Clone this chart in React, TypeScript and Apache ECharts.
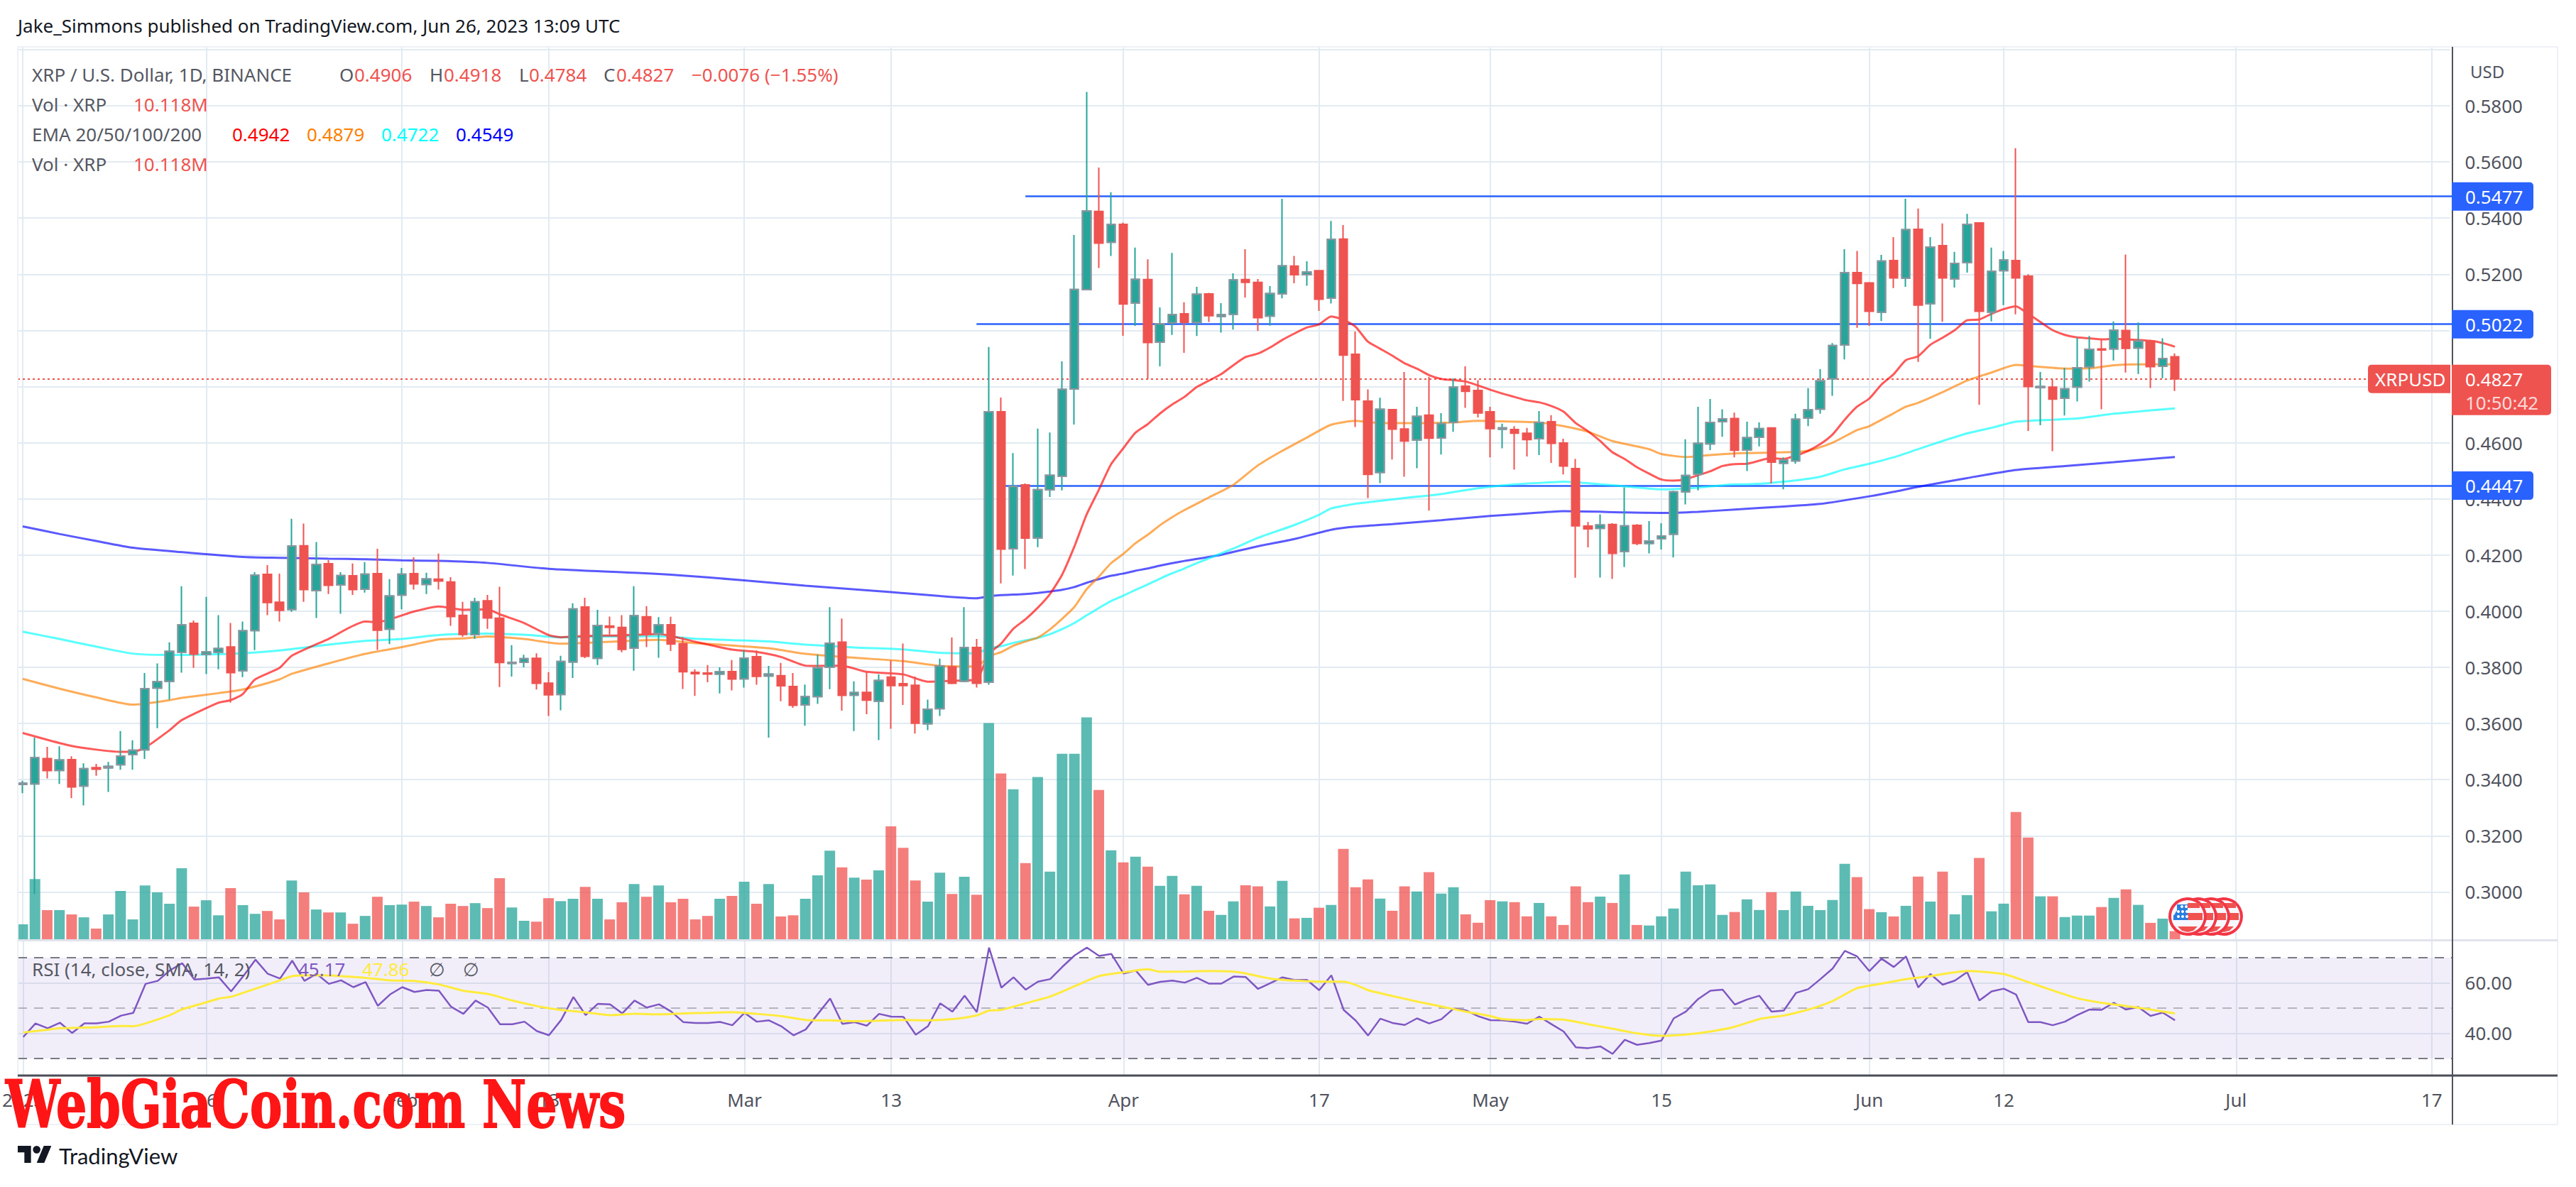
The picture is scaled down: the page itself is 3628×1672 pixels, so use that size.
import React, { useEffect, useRef } from "react";
import * as echarts from "echarts";

// ---------- categories (one per calendar day, Jan 1 2023 onward) ----------
const dayCount = 199;
const firstDay = Date.UTC(2023, 0, 1);
const categories: string[] = [];
for (let i = 0; i < dayCount; i++) categories.push(new Date(firstDay + i * 86400000).toISOString().slice(0, 10));
const tickIdx = [0, 15, 31, 43, 59, 71, 90, 106, 120, 134, 151, 162, 181, 197];
const tickText = ["2023", "16", "Feb", "13", "Mar", "13", "Apr", "17", "May", "15", "Jun", "12", "Jul", "17"];
const priceTicks = [0.3, 0.32, 0.34, 0.36, 0.38, 0.4, 0.42, 0.44, 0.46, 0.48, 0.5, 0.52, 0.54, 0.56, 0.58];
const rsiTicks = [40, 60];

// ---------- candles ----------
const opens = [
  .3383,.3385,.3475,.3433,.3471,.3377,.3443,.3442,.3453,.3489,
  .3506,.3726,.3750,.3853,.3957,.3846,.3854,.3873,.3788,.3931,
  .4131,.4032,.4006,.4233,.4073,.4169,.4093,.4126,.4078,.4134,
  .3936,.4057,.4134,.4095,.4114,.4104,.3985,.3916,.4037,.3975,
  .3814,.3818,.3832,.3744,.3703,.3819,.4015,.3832,.3947,.3942,
  .3868,.3980,.3920,.3952,.3884,.3782,.3780,.3776,.3785,.3759,
  .3838,.3769,.3770,.3732,.3666,.3696,.3800,.3890,.3701,.3711,
  .3679,.3765,.3742,.3736,.3599,.3653,.3802,.3751,.3871,.3747,
  .4710,.4222,.4450,.4261,.4432,.4480,.4791,.5145,.5424,.5314,
  .5378,.5097,.5181,.4958,.5027,.5059,.5028,.5130,.5050,.5057,
  .5181,.5171,.5051,.5130,.5229,.5198,.5213,.5115,.5325,.4915,
  .4748,.4494,.4718,.4649,.4610,.4698,.4617,.4672,.4801,.4786,
  .4710,.4648,.4647,.4634,.4614,.4675,.4599,.4508,.4303,.4295,
  .4309,.4213,.4306,.4241,.4258,.4274,.4425,.4488,.4596,.4675,
  .4686,.4574,.4619,.4653,.4527,.4535,.4688,.4720,.4828,.4948,
  .5206,.5169,.5065,.5249,.5186,.5360,.5095,.5302,.5183,.5241,
  .5383,.5065,.5213,.5249,.5193,.4796,.4798,.4758,.4798,.4870,
  .4934,.4934,.5000,.4937,.4962,.4872,.4906,
];
const closes = [
  .3387,.3478,.3432,.3470,.3374,.3439,.3437,.3447,.3484,.3505,
  .3724,.3749,.3857,.3951,.3847,.3855,.3867,.3781,.3930,.4128,
  .4031,.4003,.4232,.4077,.4166,.4092,.4127,.4077,.4132,.3932,
  .4054,.4132,.4097,.4115,.4107,.3981,.3917,.4033,.3976,.3817,
  .3818,.3831,.3743,.3702,.3821,.4008,.3839,.3949,.3942,.3864,
  .3984,.3916,.3951,.3883,.3784,.3777,.3776,.3784,.3758,.3833,
  .3768,.3776,.3734,.3665,.3696,.3798,.3886,.3700,.3710,.3683,
  .3753,.3735,.3735,.3601,.3651,.3805,.3743,.3870,.3743,.4710,
  .4221,.4444,.4260,.4433,.4484,.4790,.5146,.5425,.5311,.5377,
  .5094,.5182,.4957,.5024,.5056,.5029,.5129,.5052,.5056,.5180,
  .5171,.5045,.5131,.5230,.5198,.5208,.5111,.5324,.4912,.4753,
  .4487,.4719,.4648,.4606,.4694,.4616,.4668,.4798,.4783,.4706,
  .4650,.4653,.4634,.4611,.4672,.4598,.4517,.4304,.4293,.4307,
  .4206,.4304,.4241,.4250,.4268,.4425,.4483,.4598,.4672,.4685,
  .4573,.4618,.4650,.4531,.4538,.4684,.4717,.4820,.4946,.5206,
  .5167,.5068,.5247,.5187,.5359,.5090,.5297,.5187,.5239,.5378,
  .5068,.5210,.5251,.5187,.4800,.4800,.4755,.4792,.4867,.4933,
  .4930,.5001,.4936,.4962,.4871,.4900,.4827,
];
const lows = [
  .3352,.2993,.3404,.3385,.3334,.3308,.3414,.3356,.3435,.3435,
  .3474,.3583,.3685,.3781,.3798,.3776,.3793,.3674,.3765,.3861,
  .3986,.3963,.3998,.4033,.3976,.4061,.3991,.4058,.4066,.3862,
  .3883,.4007,.4077,.4061,.4077,.3948,.3909,.3901,.3937,.3730,
  .3767,.3800,.3721,.3627,.3647,.3762,.3833,.3808,.3917,.3854,
  .3788,.3872,.3834,.3858,.3723,.3698,.3747,.3707,.3718,.3728,
  .3738,.3550,.3679,.3656,.3592,.3670,.3722,.3646,.3573,.3633,
  .3541,.3581,.3666,.3564,.3576,.3627,.3740,.3747,.3728,.3738,
  .4099,.4127,.4150,.4228,.4407,.4430,.4665,.5144,.5222,.5265,
  .4981,.5016,.4827,.4872,.4984,.4920,.4980,.5030,.4992,.5003,
  .5117,.4998,.5017,.5114,.5168,.5159,.5069,.5096,.4749,.4656,
  .4403,.4456,.4540,.4479,.4509,.4358,.4558,.4639,.4724,.4690,
  .4548,.4580,.4504,.4551,.4556,.4528,.4487,.4119,.4227,.4120,
  .4115,.4157,.4235,.4206,.4220,.4191,.4380,.4430,.4574,.4621,
  .4548,.4499,.4587,.4455,.4434,.4525,.4659,.4703,.4767,.4897,
  .5009,.5016,.5033,.5151,.5155,.4888,.4970,.5031,.5153,.5206,
  .4735,.5032,.5090,.5057,.4642,.4662,.4570,.4697,.4747,.4818,
  .4719,.4893,.4850,.4845,.4795,.4830,.4784,
];
const highs = [
  .3396,.3550,.3517,.3519,.3483,.3458,.3456,.3463,.3573,.3540,
  .3780,.3814,.3889,.4089,.3967,.4051,.3986,.3958,.3963,.4139,
  .4164,.4134,.4329,.4312,.4246,.4182,.4139,.4170,.4175,.4222,
  .4114,.4154,.4192,.4137,.4205,.4121,.4033,.4048,.4058,.4087,
  .3879,.3845,.3850,.3783,.3841,.4028,.4048,.4005,.3981,.3986,
  .4089,.4018,.3979,.3980,.3908,.3793,.3808,.3800,.3826,.3860,
  .3860,.3805,.3816,.3780,.3739,.3845,.4014,.3974,.3750,.3783,
  .3775,.3824,.3885,.3767,.3685,.3831,.3906,.4014,.3901,.4941,
  .4761,.4563,.4455,.4650,.4636,.4890,.5340,.5849,.5580,.5492,
  .5384,.5295,.5253,.5082,.5276,.5100,.5155,.5134,.5097,.5203,
  .5289,.5183,.5158,.5469,.5265,.5246,.5213,.5390,.5375,.4996,
  .4790,.4760,.4720,.4852,.4728,.4835,.4705,.4830,.4872,.4823,
  .4728,.4668,.4659,.4653,.4713,.4698,.4614,.4542,.4318,.4345,
  .4313,.4441,.4310,.4321,.4313,.4429,.4612,.4728,.4756,.4719,
  .4707,.4675,.4672,.4655,.4548,.4703,.4794,.4862,.4955,.5289,
  .5283,.5172,.5269,.5332,.5469,.5434,.5332,.5381,.5280,.5415,
  .5385,.5295,.5283,.5649,.5200,.4852,.4825,.4867,.4974,.4980,
  .4968,.5032,.5270,.5028,.4963,.4972,.4918,
];

// ---------- volume, millions ----------
const volumes = [
  18.0,69.9,34.3,34.3,29.3,26.0,13.0,29.3,56.3,23.6,
  62.6,54.6,41.6,82.3,38.3,45.6,28.3,59.6,40.0,30.0,
  33.3,23.6,68.3,54.6,35.0,31.6,31.6,18.6,27.6,49.6,
  40.0,40.6,44.0,39.0,26.0,41.6,39.0,42.3,36.6,70.9,
  37.3,22.0,21.0,48.0,44.6,47.3,60.9,47.3,23.6,43.3,
  64.3,49.6,62.6,43.3,47.3,23.6,27.6,47.3,50.6,66.9,
  41.6,64.3,27.0,28.3,47.3,74.3,102.6,83.3,71.6,69.3,
  79.9,130.5,105.9,68.3,44.0,77.3,52.9,72.6,51.9,249.1,
  191.2,173.1,88.3,187.1,78.4,213.9,213.9,255.6,172.2,102.9,
  89.2,95.6,84.2,62.1,73.7,52.5,62.1,33.5,28.8,44.3,
  62.9,61.5,38.5,67.9,24.8,25.4,37.0,40.2,104.6,60.6,
  69.6,47.5,33.5,61.5,55.7,77.8,53.3,60.6,29.4,19.8,
  45.7,44.3,43.4,27.1,42.5,27.1,17.2,61.5,43.4,49.8,
  42.5,75.2,17.2,16.6,27.1,36.1,78.4,62.9,63.8,28.8,
  32.1,46.6,34.4,54.8,34.3,55.7,39.2,34.3,45.9,87.5,
  72.1,35.4,31.9,27.0,39.2,72.8,44.1,78.4,29.4,51.5,
  94.2,32.9,41.7,147.0,117.6,50.1,50.1,26.3,28.0,28.0,
  37.8,48.3,58.1,40.3,19.6,24.5,10.118,
];

// ---------- EMAs, as [day index, value] readings ----------
const ema20: [number, number][] = [
  [0,.3566],[2,.3542],[4,.3520],[6,.3507],[8,.3499],[9,.3499],[10,.3514],[12,.3576],[13,.3612],[16,.3674],[17,.3683],[18,.3705],[19,.3757],[21,.3798],[22,.3841],[25,.3901],[28,.3963],[29,.3961],[32,.3999],[34,.4017],[36,.4005],[38,.4007],[39,.3989],[41,.3958],[43,.3915],[44,.3907],[46,.3912],[49,.3914],[52,.3919],[55,.3891],[58,.3863],[60,.3855],[62,.3837],[64,.3806],[65,.3805],[67,.3806],[69,.3784],[72,.3775],[74,.3749],[76,.3752],[78,.3757],
  [79,.3848],[80,.3884],[81,.3937],[82,.3971],[83,.4012],[84,.4061],[85,.4130],[86,.4230],[87,.4344],[88,.4432],[89,.4523],[90,.4580],[91,.4636],[92,.4666],[93,.4704],[94,.4736],[95,.4763],
  [96,.4798],[97,.4821],[98,.4844],[99,.4876],[100,.4905],[101,.4917],[102,.4939],[103,.4966],[104,.4989],[105,.5010],[106,.5021],[107,.5050],[108,.5038],[109,.5013],[110,.4960],[111,.4935],[112,.4910],[113,.4883],[114,.4864],[115,.4841],[116,.4827],[117,.4823],[118,.4818],[119,.4804],[120,.4789],[121,.4775],[122,.4763],[123,.4751],[124,.4744],[125,.4731],[126,.4711],[127,.4670],[128,.4641],[129,.4606],[130,.4566],[131,.4542],[132,.4513],[133,.4490],[134,.4469],[135,.4465],[136,.4470],[137,.4484],[138,.4498],[139,.4517],[140,.4524],
  [141,.4525],[143,.4545],[144,.4542],[145,.4554],[146,.4571],[147,.4595],[148,.4629],[149,.4682],[150,.4728],[151,.4757],[152,.4807],[153,.4844],[154,.4894],[155,.4908],[156,.4949],[157,.4974],[158,.5001],[159,.5036],[160,.5039],[161,.5059],[162,.5076],[163,.5086],[164,.5059],[165,.5030],[166,.5001],[167,.4984],[168,.4975],[169,.4972],[170,.4968],[171,.4970],[172,.4968],[173,.4966],[174,.4963],[175,.4955],[176,.4942],
];
const ema50: [number, number][] = [
  [0,.3759],[3,.3724],[6,.3693],[9,.3667],[12,.3683],[13,.3691],[16,.3708],[18,.3721],[21,.3757],[22,.3777],[25,.3814],[28,.3848],[31,.3872],[34,.3899],[36,.3903],[38,.3910],[41,.3901],[44,.3884],[48,.3891],[52,.3898],[55,.3886],[58,.3878],[61,.3868],[64,.3848],[68,.3834],[72,.3822],[75,.3805],[78,.3803],
  [79,.3839],[80,.3854],[81,.3877],[82,.3892],[83,.3906],[84,.3935],[85,.3973],[86,.4015],[87,.4078],[88,.4123],[89,.4171],[90,.4204],[91,.4242],[92,.4272],[93,.4306],[94,.4335],[95,.4360],
  [97,.4405],[99,.4450],[101,.4519],[103,.4571],[105,.4618],[107,.4664],[109,.4678],[111,.4670],[114,.4670],[117,.4672],[119,.4678],[121,.4676],[124,.4672],[126,.4659],[128,.4639],[130,.4606],[133,.4577],[134,.4560],[136,.4549],[138,.4556],[140,.4562],
  [141,.4563],[144,.4566],[146,.4571],[148,.4600],[150,.4645],[151,.4659],[153,.4705],[154,.4728],[155,.4742],[157,.4780],[159,.4821],[161,.4850],[163,.4877],[165,.4870],[167,.4864],[169,.4865],[171,.4876],[173,.4879],[176,.4879],
];
const ema100: [number, number][] = [
  [0,.3927],[3,.3901],[6,.3874],[9,.3849],[12,.3844],[16,.3847],[18,.3850],[21,.3860],[25,.3881],[28,.3894],[31,.3901],[34,.3915],[38,.3920],[41,.3916],[44,.3907],[48,.3910],[52,.3911],[55,.3902],[58,.3897],[61,.3892],[64,.3881],[68,.3871],[72,.3864],[75,.3852],[78,.3850],
  [79,.3868],[80,.3875],[81,.3887],[82,.3896],[83,.3905],[84,.3918],[85,.3936],[86,.3958],[87,.3985],[88,.4011],[89,.4036],[90,.4055],[91,.4076],[92,.4095],[93,.4116],[94,.4135],[95,.4152],
  [96,.4171],[99,.4223],[101,.4261],[104,.4307],[106,.4343],[107,.4366],[109,.4383],[110,.4388],[113,.4403],[116,.4417],[119,.4438],[122,.4452],[125,.4459],[126,.4461],[129,.4452],[131,.4445],[134,.4434],[137,.4440],[140,.4452],
  [141,.4452],[144,.4461],[147,.4479],[149,.4505],[151,.4525],[153,.4548],[155,.4577],[157,.4606],[159,.4633],[161,.4653],[163,.4675],[166,.4682],[168,.4686],[171,.4703],[174,.4715],[176,.4722],
];
const ema200: [number, number][] = [
  [0,.4302],[3,.4275],[6,.4250],[9,.4226],[12,.4214],[18,.4193],[21,.4190],[25,.4187],[28,.4185],[31,.4181],[34,.4179],[38,.4172],[43,.4151],[50,.4137],[53,.4130],[59,.4110],[64,.4091],[71,.4068],[75,.4054],[78,.4046],
  [79,.4053],[80,.4057],[81,.4059],[82,.4061],[83,.4065],[84,.4070],[85,.4076],[86,.4086],[87,.4101],[88,.4114],[89,.4126],[90,.4134],[91,.4144],[92,.4152],[93,.4162],[94,.4171],[95,.4179],
  [98,.4201],[101,.4231],[104,.4257],[107,.4290],[109,.4301],[112,.4310],[116,.4324],[120,.4339],[124,.4351],[126,.4356],[131,.4352],[134,.4350],[137,.4354],[140,.4362],
  [144,.4373],[147,.4382],[151,.4409],[153,.4425],[155,.4443],[159,.4474],[163,.4503],[167,.4517],[171,.4531],[176,.4549],
];

// ---------- horizontal levels: [first day index, price] ----------
const levels: [number, number][] = [[82, .5477], [78, .5022], [80, .4447]];
const lastPrice = 0.4827;

// ---------- RSI ----------
const rsi = [
  38.5,43.9,42.0,44.2,40.1,43.9,43.9,44.6,47.0,48.1,
  59.6,60.8,65.0,67.8,61.3,61.7,62.2,56.6,62.7,69.2,
  63.6,61.7,68.8,60.8,63.6,59.6,61.0,58.3,60.3,50.9,
  55.4,58.3,56.4,57.2,56.9,50.5,47.7,53.0,50.2,43.6,
  43.6,44.6,40.9,39.2,45.3,54.4,47.2,51.7,51.5,47.9,
  53.0,50.2,51.5,48.6,44.4,44.1,44.1,44.5,43.2,48.1,
  44.6,45.1,42.8,39.2,41.5,47.7,53.8,43.7,44.4,43.0,
  47.7,46.6,46.5,39.4,42.8,51.9,48.6,54.9,48.4,74.0,
  58.1,62.2,57.3,60.5,61.5,66.4,70.9,74.0,70.7,71.5,
  63.7,64.9,59.2,60.4,60.9,60.1,62.0,59.7,59.7,62.5,
  62.3,57.6,59.9,62.2,61.1,61.2,57.1,63.0,49.3,45.0,
  39.1,45.8,44.1,43.3,45.9,43.9,45.6,49.8,49.1,46.8,
  45.2,45.1,44.6,43.8,46.6,43.6,40.7,34.4,34.1,34.8,
  31.8,37.4,35.4,36.1,37.1,45.9,48.6,53.6,56.9,57.3,
  51.4,53.4,54.9,48.6,49.0,56.0,57.5,61.5,65.7,72.7,
  70.5,64.7,69.6,66.3,70.5,58.2,63.5,59.3,60.9,64.3,
  53.0,56.6,57.7,55.4,44.4,44.4,43.2,44.6,47.2,49.4,
  49.3,52.1,49.4,50.4,46.9,48.2,45.17,
];
const rsiMa: [number, number][] = [
  [0,40.3],[2,41.4],[3,42.0],[6,42.4],[8,42.9],[9,42.8],[10,43.9],[12,47.2],[13,49.5],[15,52.3],[16,53.8],[17,54.5],[19,57.7],[21,61.0],[22,62.7],[24,63.0],[26,62.7],[28,62.0],[30,61.0],[32,60.8],[34,59.4],[36,56.9],[38,55.6],[40,53.0],[42,50.8],[44,49.2],[46,48.3],[48,47.2],[50,47.7],[52,47.5],[54,47.9],[56,48.1],[58,48.4],[60,47.7],[62,46.8],[64,45.3],[66,45.1],[68,44.8],[70,45.0],[72,45.3],
  [74,45.1],[76,45.6],[78,47.1],[79,49.0],[80,49.3],[82,51.9],[84,54.6],[86,58.7],[88,62.7],[90,64.2],[92,65.4],[93,64.4],[95,64.5],[97,64.7],[99,64.4],[100,63.7],[102,61.7],[104,60.9],[106,60.5],[108,60.5],[109,59.2],[110,57.1],[112,54.8],[114,52.6],[116,50.6],[118,48.6],[120,46.8],[121,45.6],[123,45.2],[124,45.6],[126,45.4],[128,43.6],[130,41.8],[132,40.0],[134,39.0],[136,39.5],[138,40.7],[140,42.6],[142,45.6],[143,46.4],
  [144,47.0],[146,49.4],[148,52.8],[150,57.9],[152,59.7],[154,61.5],[156,62.7],[159,64.7],[162,63.5],[164,60.3],[166,57.0],[168,53.9],[170,52.1],[172,50.8],[174,49.4],[176,47.86],
];
const rsiBands = [70, 50, 30];

// ---------- layout constants ----------
const UP = "#26a69a";
const DOWN = "#ef5350";
const GRID_LINE = "#e3ebf2";
const AXIS_TEXT = "#50535e";
const FONT = "'Noto Sans', sans-serif";
const PLOT_L = 25;
const AXIS_X = 3454;
const FRAME_R = 3602;
const TOP = 66;
const PRICE_BOTTOM = 1324;
const RSI_BOTTOM = 1514;
const BOTTOM = 1584;
const GRID_L = 23.39;
const GRID_W = 3427.2;
const PRICE_MAX = 0.58 + (149 - TOP) / 3955;
const PRICE_MIN = 0.58 - (PRICE_BOTTOM - 149) / 3955;
const py = (v: number) => TOP + ((PRICE_MAX - v) * (PRICE_BOTTOM - TOP)) / (PRICE_MAX - PRICE_MIN);

echarts.graphic.registerShape(
  "tvlogo",
  echarts.graphic.extendPath("M14 22H7V11H0V4h14v18zM28 22h-8l7.5-18h8L28 22zM20 12a4 4 0 1 0 0-8 4 4 0 0 0 0 8z", {})
);

const txt = (x: number, y: number, text: string, fill: string, fontSize = 26, extra: any = {}, styleExtra: any = {}) => ({
  type: "text",
  x,
  y,
  z: 100,
  silent: true,
  style: { text, fill, fontSize, fontFamily: FONT, verticalAlign: "middle", align: "left", ...styleExtra },
  ...extra,
});
const hl = (x1: number, x2: number, y: number, stroke: string, lineWidth: number, z = 90) => ({
  type: "line", z, silent: true, shape: { x1, y1: y, x2, y2: y }, style: { stroke, lineWidth },
});
const vl = (x: number, y1: number, y2: number, stroke: string, lineWidth: number, z = 90) => ({
  type: "line", z, silent: true, shape: { x1: x, y1, x2: x, y2 }, style: { stroke, lineWidth },
});
const box = (x: number, y: number, width: number, height: number, fill: string, z = 95, r: any = 0) => ({
  type: "rect", z, silent: true, shape: { x, y, width, height, r }, style: { fill },
});

function flag(cx: number, cy: number, z: number, front: boolean) {
  const R = 25;
  const parts: any[] = [
    { type: "circle", z, silent: true, shape: { cx, cy, r: R }, style: { fill: "#f7f8ff", stroke: "#f23645", lineWidth: 4 } },
    box(cx, cy - 19, 17, 7, "#f0524f", z + 0.1),
    box(cx, cy - 5, 21, 10, "#f0524f", z + 0.1),
    { type: "polygon", z: z + 0.1, silent: true, shape: { points: [[cx - 14, cy + 14], [cx + 14, cy + 14], [cx + 8, cy + 20], [cx, cy + 22], [cx - 8, cy + 20]] }, style: { fill: "#f0524f" } },
  ];
  if (front) {
    parts.push({ type: "sector", z: z + 0.2, silent: true, shape: { cx, cy: cy + 5, r: 20, r0: 0, startAngle: Math.PI, endAngle: Math.PI * 1.5 }, style: { fill: "#2a7de1" } });
    parts.push(box(cx - 20, cy - 2, 20, 7, "#2a7de1", z + 0.2));
    parts.push(box(cx - 15, cy - 17, 15, 10, "#2a7de1", z + 0.2));
    for (const [dx, dy] of [[-8, -14], [-2, -14], [-13, -7], [-7, -7], [-1, -7], [-13, 0], [-7, 0], [-1, 0]]) {
      parts.push({ type: "circle", z: z + 0.3, silent: true, shape: { cx: cx + dx, cy: cy + dy, r: 2 }, style: { fill: "#ffffff" } });
    }
  }
  return parts;
}

function buildGraphics() {
  const e: any[] = [];
  // page frame
  e.push(box(0, 40, PLOT_L, 1500, "#ffffff", 80));
  e.push(hl(PLOT_L, FRAME_R, TOP, "#eef1f6", 2));
  e.push(vl(PLOT_L, TOP, BOTTOM, "#eef1f6", 2));
  e.push(vl(FRAME_R, TOP, BOTTOM, "#eef1f6", 2));
  e.push(hl(PLOT_L, FRAME_R, BOTTOM, "#eef1f6", 2));
  e.push(hl(PLOT_L, FRAME_R, PRICE_BOTTOM + 0.5, "#e0e3eb", 3));
  e.push(hl(PLOT_L, FRAME_R, RSI_BOTTOM + 1, "#4a4c56", 3));
  e.push(vl(AXIS_X, TOP, BOTTOM, "#50535e", 2));

  // header + legends
  e.push(txt(25, 36, "Jake_Simmons published on TradingView.com, Jun 26, 2023 13:09 UTC", "#131722", 26));
  const lg = "#555862";
  e.push(txt(45, 105, "XRP / U.S. Dollar, 1D, BINANCE", lg));
  e.push(txt(478, 105, "O", lg), txt(499, 105, "0.4906", DOWN));
  e.push(txt(605, 105, "H", lg), txt(625, 105, "0.4918", DOWN));
  e.push(txt(731, 105, "L", lg), txt(745, 105, "0.4784", DOWN));
  e.push(txt(850, 105, "C", lg), txt(868, 105, "0.4827", DOWN));
  e.push(txt(974, 105, "\u22120.0076 (\u22121.55%)", DOWN));
  e.push(txt(45, 147, "Vol \u00b7 XRP", lg), txt(188, 147, "10.118M", DOWN));
  e.push(txt(45, 189, "EMA 20/50/100/200", lg));
  e.push(txt(327, 189, "0.4942", "#ff0000"), txt(432, 189, "0.4879", "#ff7f00"));
  e.push(txt(537, 189, "0.4722", "#00ffff"), txt(642, 189, "0.4549", "#0000ff"));
  e.push(txt(45, 231, "Vol \u00b7 XRP", lg), txt(188, 231, "10.118M", DOWN));
  e.push(txt(45, 1365, "RSI (14, close, SMA, 14, 2)", lg));
  e.push(txt(420, 1365, "45.17", "#7e57c2"), txt(510, 1365, "47.86", "#ffeb3b"));
  e.push(txt(604, 1365, "\u2205", lg), txt(652, 1365, "\u2205", lg));
  e.push(txt(3479, 100, "USD", AXIS_TEXT, 24));

  // price tags
  for (const [, v] of levels) {
    const y = py(v);
    e.push(box(AXIS_X - 1, y - 20, 115, 40, "#2962ff", 96, [0, 5, 5, 0]));
    e.push(txt(3472, y, v.toFixed(4), "#ffffff"));
  }
  const ly = py(lastPrice);
  e.push(box(3335, ly - 20, 116, 40, DOWN, 96, [5, 0, 0, 5]));
  e.push(txt(3345, ly, "XRPUSD", "#ffffff", 26));
  e.push(box(AXIS_X - 1, ly - 20, 140, 71, DOWN, 96, [0, 5, 5, 0]));
  e.push(txt(3472, ly, lastPrice.toFixed(4), "#ffffff"));
  e.push(txt(3472, ly + 33, "10:50:42", "rgba(255,255,255,0.8)"));

  // flags, back to front
  [3132, 3114, 3096].forEach((cx, i) => e.push(...flag(cx, 1291, 60 + i, false)));
  e.push(...flag(3081, 1291, 64, true));

  // watermark + logo
  e.push({
    type: "text", x: 8, y: 1602, z: 110, silent: true, scaleX: 0.74, scaleY: 1,
    style: { text: "WebGiaCoin.com News", fill: "#ff1515", fontSize: 92, fontWeight: 900, fontFamily: "'DejaVu Serif', serif", verticalAlign: "bottom", align: "left", stroke: "#ff1515", lineWidth: 2 },
  });
  e.push({ type: "tvlogo", x: 25, y: 1608.7, scaleX: 1.333, scaleY: 1.333, z: 110, silent: true, style: { fill: "#131722" } });
  e.push(txt(83, 1628, "TradingView", "#131722", 31, {}, { fontFamily: "Lato, sans-serif" }));
  return e;
}

function buildOption(): any {
  const tickSet = new Set(tickIdx);
  const isTick = (i: number) => tickSet.has(i);
  const isUp = (i: number) => closes[i] >= opens[i];
  const candles = opens.map((o, i) => [o, closes[i], lows[i], highs[i]]);
  const upBodies = opens.map((o, i) => (isUp(i) ? [o, closes[i], o, closes[i]] : ["-", "-", "-", "-"]));
  const vol = volumes.map((v, i) => ({ value: v, itemStyle: { color: isUp(i) ? "rgba(38,166,154,0.75)" : "rgba(239,83,80,0.75)" } }));
  const emaLine = (data: [number, number][], color: string, name: string) => ({
    type: "line", name, data, xAxisIndex: 0, yAxisIndex: 0, showSymbol: false, symbol: "none", z: 3, smooth: 0.2,
    lineStyle: { color, width: 3 }, silent: true,
  });
  const splitX = { show: true, alignWithLabel: true, interval: (i: number) => isTick(i), lineStyle: { color: GRID_LINE, width: 2 } };

  return {
    animation: false,
    backgroundColor: "#ffffff",
    grid: [
      { left: GRID_L, width: GRID_W, top: TOP, height: PRICE_BOTTOM - TOP },
      { left: GRID_L, width: GRID_W, top: PRICE_BOTTOM, height: RSI_BOTTOM - PRICE_BOTTOM },
    ],
    xAxis: [
      { type: "category", gridIndex: 0, data: categories, boundaryGap: true, axisLine: { show: false }, axisTick: { show: false }, axisLabel: { show: false }, splitLine: splitX },
      {
        type: "category", gridIndex: 1, data: categories, boundaryGap: true, axisLine: { show: false }, axisTick: { show: false },
        splitLine: splitX,
        axisLabel: {
          show: true, interval: (i: number) => isTick(i), hideOverlap: false, margin: 22,
          color: AXIS_TEXT, fontSize: 26, fontFamily: FONT,
          formatter: (_: string, i: number) => tickText[tickIdx.indexOf(i)] ?? "",
        },
      },
    ],
    yAxis: [
      {
        type: "value", gridIndex: 0, position: "right", min: PRICE_MIN, max: PRICE_MAX, scale: true,
        axisLine: { show: false },
        axisTick: { show: false, customValues: [...priceTicks, 0.6] },
        splitLine: { show: true, lineStyle: { color: GRID_LINE, width: 2 } },
        axisLabel: { customValues: priceTicks, formatter: (v: number) => v.toFixed(4), color: AXIS_TEXT, fontSize: 26, fontFamily: FONT, margin: 21 },
      },
      { type: "value", gridIndex: 0, min: 0, max: 1026, show: false, splitLine: { show: false } },
      {
        type: "value", gridIndex: 1, position: "right", min: 23.5, max: 77.04,
        axisLine: { show: false },
        axisTick: { show: false, customValues: rsiTicks },
        splitLine: { show: true, lineStyle: { color: GRID_LINE, width: 2 } },
        axisLabel: { customValues: rsiTicks, formatter: (v: number) => v.toFixed(2), color: AXIS_TEXT, fontSize: 26, fontFamily: FONT, margin: 21 },
      },
    ],
    series: [
      { type: "bar", name: "Vol", xAxisIndex: 0, yAxisIndex: 1, data: vol, barWidth: 15, z: 1, silent: true },
      {
        type: "line", name: "levels", xAxisIndex: 0, yAxisIndex: 0, data: [], z: 2, silent: true,
        markLine: {
          silent: true, symbol: "none", animation: false, label: { show: false }, z: 2,
          data: [
            ...levels.map(([i, v]) => [
              { coord: [i, v], lineStyle: { color: "#2962ff", width: 2.5, type: "solid" } },
              { x: AXIS_X, coord: [198, v] },
            ]),
            [
              { x: PLOT_L, coord: [0, lastPrice], lineStyle: { color: DOWN, width: 2, type: [3, 4] } },
              { x: 3335, coord: [198, lastPrice] },
            ],
          ],
        },
      },
      emaLine(ema200, "rgba(0,0,255,0.65)", "EMA 200"),
      emaLine(ema100, "rgba(0,255,255,0.65)", "EMA 100"),
      emaLine(ema50, "rgba(255,127,0,0.65)", "EMA 50"),
      emaLine(ema20, "rgba(255,0,0,0.65)", "EMA 20"),
      {
        type: "candlestick", name: "XRPUSD", xAxisIndex: 0, yAxisIndex: 0, data: candles, barWidth: 12, z: 4, silent: true,
        itemStyle: { color: UP, color0: DOWN, borderColor: UP, borderColor0: DOWN, borderWidth: 2 },
      },
      {
        type: "candlestick", name: "XRPUSD border", xAxisIndex: 0, yAxisIndex: 0, data: upBodies, barWidth: 12, z: 5, silent: true,
        itemStyle: { color: UP, color0: UP, borderColor: "#8f939e", borderColor0: "#8f939e", borderWidth: 2 },
      },
      {
        type: "line", name: "RSI", xAxisIndex: 1, yAxisIndex: 2, data: rsi, showSymbol: false, symbol: "none", z: 4, silent: true,
        lineStyle: { color: "#7e57c2", width: 2.5 },
        markArea: {
          silent: true, z: 1, itemStyle: { color: "rgba(126,87,194,0.1)" },
          data: [[{ x: PLOT_L, yAxis: 70 }, { x: AXIS_X, yAxis: 30 }]],
        },
        markLine: {
          silent: true, symbol: "none", animation: false, label: { show: false }, z: 2,
          data: rsiBands.map((b) => [
            { x: PLOT_L, yAxis: b, lineStyle: { color: b === 50 ? "rgba(120,123,134,0.5)" : "#787b86", width: 2, type: [13, 10] } },
            { x: AXIS_X, yAxis: b },
          ]),
        },
      },
      {
        type: "line", name: "RSI MA", xAxisIndex: 1, yAxisIndex: 2, data: rsiMa, showSymbol: false, symbol: "none", z: 5, silent: true, smooth: 0.2,
        lineStyle: { color: "#ffeb3b", width: 3 },
      },
    ],
    graphic: { elements: buildGraphics() },
  };
}

export default function App() {
  const ref = useRef<HTMLDivElement>(null);
  useEffect(() => {
    const chart = echarts.init(ref.current!, null, { renderer: "svg" });
    chart.setOption(buildOption());
    return () => chart.dispose();
  }, []);
  return <div ref={ref} style={{ position: "absolute", left: 0, top: 0, width: 3628, height: 1672, background: "#fff" }} />;
}
